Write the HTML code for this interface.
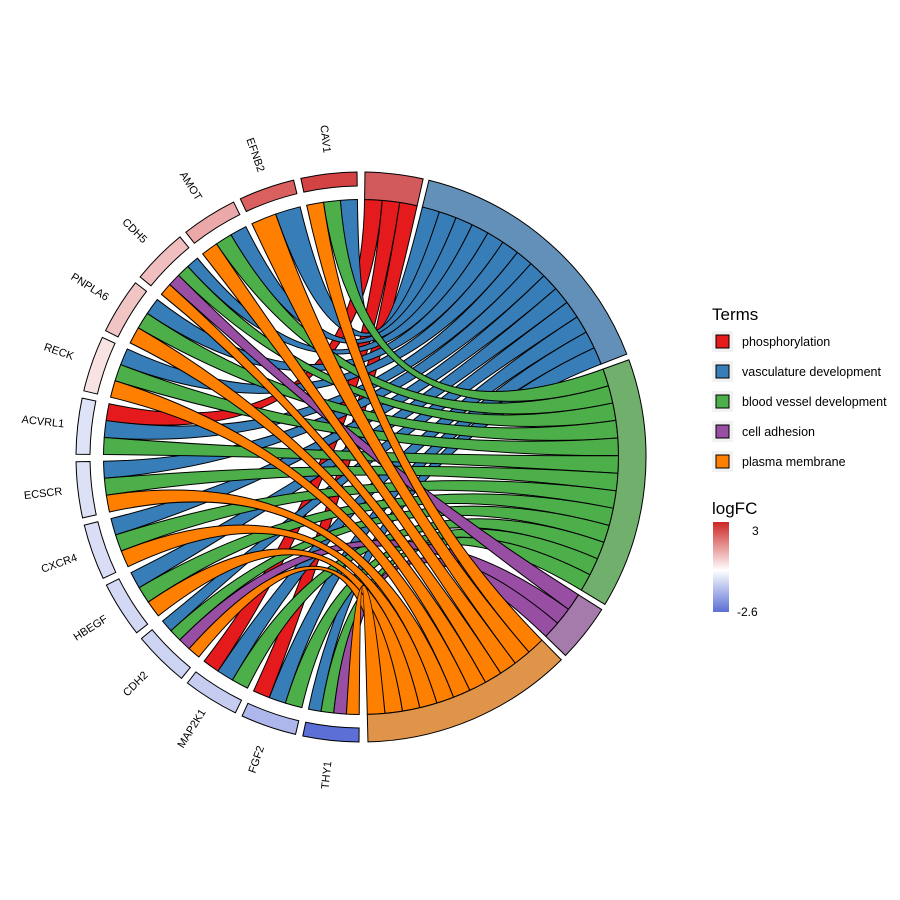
<!DOCTYPE html>
<html><head><meta charset="utf-8"><style>
html,body{margin:0;padding:0;background:#fff;}
svg{display:block;font-family:"Liberation Sans",sans-serif;}
</style></head><body>
<svg id="chart" width="900" height="900" viewBox="0 0 900 900">
<g id="ribbons"></g>
<g id="blocks"></g>
<g id="labels"></g>
<g>
<text x="712" y="320" font-size="17" fill="#000">Terms</text>
<g id="legendItems"></g>
</g>
<g>
<defs><linearGradient id="lfcGrad" x1="0" y1="0" x2="0" y2="1">
<stop offset="0" stop-color="#CD2626"/><stop offset="0.536" stop-color="#ffffff"/><stop offset="1" stop-color="#5B6FD6"/></linearGradient></defs>
<text x="712" y="514" font-size="17" fill="#000">logFC</text>
<rect x="713" y="522" width="16" height="90" fill="url(#lfcGrad)"/>
<text x="752" y="535" font-size="12" fill="#000">3</text>
<text x="737" y="616" font-size="12" fill="#000">-2.6</text>
</g>
</svg>
<script>
const genes = ["CAV1","EFNB2","AMOT","CDH5","PNPLA6","RECK","ACVRL1","ECSCR","CXCR4","HBEGF","CDH2","MAP2K1","FGF2","THY1"];
const logFC = [2.6,2.2,1.2,0.9,0.8,0.4,-0.5,-0.55,-0.6,-0.7,-0.8,-0.9,-1.3,-2.6];
const terms = ["phosphorylation","vasculature development","blood vessel development","cell adhesion","plasma membrane"];
const termColors = ["#E41A1C","#377EB8","#4DAF4A","#984EA3","#FF7F00"];
const termBlockColors = ["#D35A5C","#6390B8","#70AF6C","#A47BAB","#E0944A"];
const memPhos = ["ACVRL1","MAP2K1","FGF2"];
const memVasc = ["CAV1","EFNB2","AMOT","CDH5","PNPLA6","RECK","ACVRL1","ECSCR","CXCR4","HBEGF","CDH2","MAP2K1","FGF2","THY1"];
const memBlood = ["CAV1","AMOT","CDH5","PNPLA6","RECK","ACVRL1","ECSCR","CXCR4","HBEGF","CDH2","MAP2K1","FGF2","THY1"];
const memAdh = ["CDH5","CDH2","THY1"];
const memPlasma = ["CAV1","EFNB2","AMOT","CDH5","PNPLA6","RECK","ECSCR","CXCR4","HBEGF","CDH2","THY1"];
const members = [memPhos, memVasc, memBlood, memAdh, memPlasma];

const NS="http://www.w3.org/2000/svg";
const cx=361, cy=457, R_OUT=285, R_GIN=271, R_RIB=257.5, R_TIN=257.5;
const rad=d=>d*Math.PI/180;
const P=(r,a)=>[cx+r*Math.cos(rad(a)), cy-r*Math.sin(rad(a))];
const f=p=>p[0].toFixed(2)+","+p[1].toFixed(2);
function mix(c1,c2,t){const a=[1,3,5].map(i=>parseInt(c1.substr(i,2),16)),b=[1,3,5].map(i=>parseInt(c2.substr(i,2),16));
 return "rgb("+a.map((v,i)=>Math.round(v+(b[i]-v)*t)).join(",")+")";}
function lfcColor(v){return v>=0?mix("#ffffff","#CD2626",Math.min(1,v/3)):mix("#ffffff","#5B6FD6",Math.min(1,-v/2.6));}
// annular sector from angle a1 to a2 (a1>a2 allowed)
function sector(r1,r2,a1,a2){const lo=Math.min(a1,a2),hi=Math.max(a1,a2);const L=(hi-lo)>180?1:0;
 return "M"+f(P(r2,lo))+" A"+r2+","+r2+" 0 "+L+" 0 "+f(P(r2,hi))+" L"+f(P(r1,hi))+" A"+r1+","+r1+" 0 "+L+" 1 "+f(P(r1,lo))+" Z";}

// gene layout (left half, CCW from top)
const gStart=90.8, gEnd=269.6, gGap=1.5;
const gW=(gEnd-gStart-gGap*(genes.length-1))/genes.length;
const geneTerms=genes.map(g=>terms.map((t,i)=>i).filter(i=>members[i].includes(g)));
const geneSlots={};
const blocks=document.getElementById("blocks"), ribG=document.getElementById("ribbons"), labs=document.getElementById("labels");
genes.forEach((g,gi)=>{
 const a1=gStart+gi*(gW+gGap), a2=a1+gW;
 const el=document.createElementNS(NS,"path");
 el.setAttribute("d",sector(R_GIN,R_OUT,a1,a2));
 el.setAttribute("fill",lfcColor(logFC[gi]));el.setAttribute("stroke","#000");el.setAttribute("stroke-width","1");
 
 
 blocks.appendChild(el);
 const n=geneTerms[gi].length, w=gW/n;
 geneTerms[gi].forEach((ti,k)=>{geneSlots[g+"|"+ti]=[a1+k*w,a1+(k+1)*w];});
 const mid=(a1+a2)/2, lp=P(320,mid);
 const tx=document.createElementNS(NS,"text");
 tx.setAttribute("x",lp[0]);tx.setAttribute("y",lp[1]);tx.setAttribute("font-size","11");
 tx.setAttribute("text-anchor","middle");tx.setAttribute("dominant-baseline","middle");
 tx.setAttribute("transform","rotate("+(180-mid).toFixed(2)+" "+lp[0].toFixed(2)+" "+lp[1].toFixed(2)+")");
 tx.textContent=g;
 
 
 labs.appendChild(tx);
});
// term layout (right half, clockwise from top)
const tStart=89.2, tEnd=-88.6, tGap=1.2;
const total=members.reduce((s,m)=>s+m.length,0);
const unit=(tStart-tEnd-tGap*(terms.length-1))/total;
let cur=tStart;
const ribbons=[];
terms.forEach((t,ti)=>{
 const b1=cur, b2=cur-members[ti].length*unit;
 const el=document.createElementNS(NS,"path");
 el.setAttribute("d",sector(R_TIN,R_OUT,b1,b2));
 el.setAttribute("fill",termBlockColors[ti]);el.setAttribute("stroke","#000");el.setAttribute("stroke-width","1");
 
 
 blocks.appendChild(el);
 const ordered=genes.filter(g=>members[ti].includes(g));
 ordered.forEach((g,k)=>{
  const tb1=b1-k*unit, tb2=b1-(k+1)*unit;
  const [a1,a2]=geneSlots[g+"|"+ti];
  const d="M"+f(P(R_RIB,a1))+" A"+R_RIB+","+R_RIB+" 0 0 0 "+f(P(R_RIB,a2))+
   " Q"+cx+","+cy+" "+f(P(R_TIN,tb2))+" A"+R_TIN+","+R_TIN+" 0 0 0 "+f(P(R_TIN,tb1))+
   " Q"+cx+","+cy+" "+f(P(R_RIB,a1))+" Z";
  const rb=document.createElementNS(NS,"path");
  rb.setAttribute("d",d);rb.setAttribute("fill",termColors[ti]);rb.setAttribute("stroke","#000");rb.setAttribute("stroke-width","1");
  
  
  ribG.appendChild(rb);
 });
 cur=b2-tGap;
});
// legend
const li=document.getElementById("legendItems");
terms.forEach((t,i)=>{
 const y=331+i*30;
 const bg=document.createElementNS(NS,"rect");
 bg.setAttribute("x",712);bg.setAttribute("y",y);bg.setAttribute("width",21);bg.setAttribute("height",21);bg.setAttribute("fill","#f2f2f2");
 
 
 li.appendChild(bg);
 const sq=document.createElementNS(NS,"rect");
 sq.setAttribute("x",716);sq.setAttribute("y",y+4);sq.setAttribute("width",13);sq.setAttribute("height",13);
 sq.setAttribute("fill",termColors[i]);sq.setAttribute("stroke","#000");sq.setAttribute("stroke-width","1");
 
 
 li.appendChild(sq);
 const tx=document.createElementNS(NS,"text");
 tx.setAttribute("x",742);tx.setAttribute("y",y+15);tx.setAttribute("font-size","12.5");tx.textContent=t;
 
 
 li.appendChild(tx);
});
</script>
</body></html>
